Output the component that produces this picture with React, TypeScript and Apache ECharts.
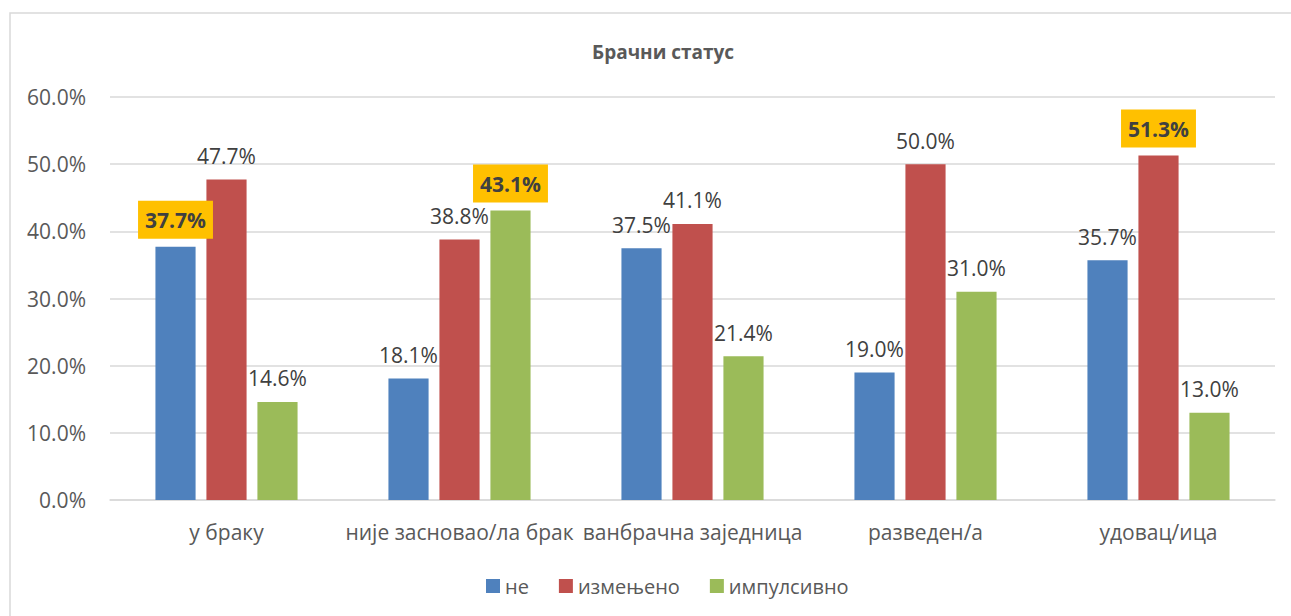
import React, { useEffect, useRef } from "react";
import * as echarts from "echarts";

const categories = ["у браку", "није засновао/ла брак", "ванбрачна заједница", "разведен/а", "удовац/ица"];
const seriesNames = ["не", "измењено", "импулсивно"];
const neValues = [37.7, 18.1, 37.5, 19.0, 35.7];
const izmenjenoValues = [47.7, 38.8, 41.1, 50.0, 51.3];
const impulsivnoValues = [14.6, 43.1, 21.4, 31.0, 13.0];
// [series index, category index] of highlighted labels
const highlights: [number, number][] = [
  [0, 0],
  [2, 1],
  [1, 4],
];
const yTicks = [0, 10, 20, 30, 40, 50, 60];

const colors = ["#4F81BD", "#C0504D", "#9BBB59"];
const FONT = "'Open Sans', 'Noto Sans', sans-serif";

export default function App() {
  const ref = useRef<HTMLDivElement>(null);
  useEffect(() => {
    document.body.style.margin = "0";
    if (!ref.current) return;
    const chart = echarts.init(ref.current, undefined, { renderer: "svg" });
    const all = [neValues, izmenjenoValues, impulsivnoValues];
    const series = all.map((vals, si) => ({
      name: seriesNames[si],
      type: "bar",
      barGap: "27%",
      barCategoryGap: "39%",
      itemStyle: { color: colors[si] },
      label: {
        show: true,
        position: "top",
        distance: 13,
        fontFamily: FONT,
        fontSize: 21,
        color: "#404040",
        formatter: (p: any) => Number(p.value).toFixed(1) + "%",
      },
      data: vals.map((v, ci) => {
        const hl = highlights.some(([s, c]) => s === si && c === ci);
        if (!hl) return v;
        return {
          value: v,
          label: {
            backgroundColor: "#FFC000",
            fontWeight: "bold",
            padding: [9, 7, 8, 7],
            distance: 8,
          },
        };
      }),
    }));
    chart.setOption({
      animation: false,
      backgroundColor: "#ffffff",
      title: {
        text: "Брачни статус",
        left: 587,
        top: 37,
        textStyle: { fontFamily: FONT, fontSize: 19, fontWeight: "bold", color: "#595959" },
      },
      graphic: [
        {
          type: "rect",
          shape: { x: 10, y: 13, width: 1400, height: 800 },
          style: { fill: "none", stroke: "#D9D9D9", lineWidth: 1.5 },
          silent: true,
        },
      ],
      legend: {
        bottom: 15,
        left: 481,
        itemWidth: 14,
        itemHeight: 14,
        itemGap: 30,
        icon: "rect",
        textStyle: { fontFamily: FONT, fontSize: 20, color: "#595959" },
        data: seriesNames,
      },
      grid: { left: 110, right: 16, top: 97, bottom: 116, containLabel: false },
      xAxis: {
        type: "category",
        data: categories,
        axisLine: { lineStyle: { color: "#D9D9D9", width: 1.5 } },
        axisTick: { show: false },
        axisLabel: { fontFamily: FONT, fontSize: 21, color: "#595959", margin: 21, interval: 0 },
      },
      yAxis: {
        type: "value",
        min: yTicks[0],
        max: yTicks[yTicks.length - 1],
        interval: 10,
        axisLine: { show: false },
        axisTick: { show: false },
        splitLine: { lineStyle: { color: "#D9D9D9", width: 1.5 } },
        axisLabel: {
          fontFamily: FONT,
          fontSize: 21,
          color: "#595959",
          margin: 24,
          formatter: (v: number) => v.toFixed(1) + "%",
        },
      },
      series,
    });
    return () => chart.dispose();
  }, []);
  return <div ref={ref} style={{ width: 1291, height: 616 }} />;
}
